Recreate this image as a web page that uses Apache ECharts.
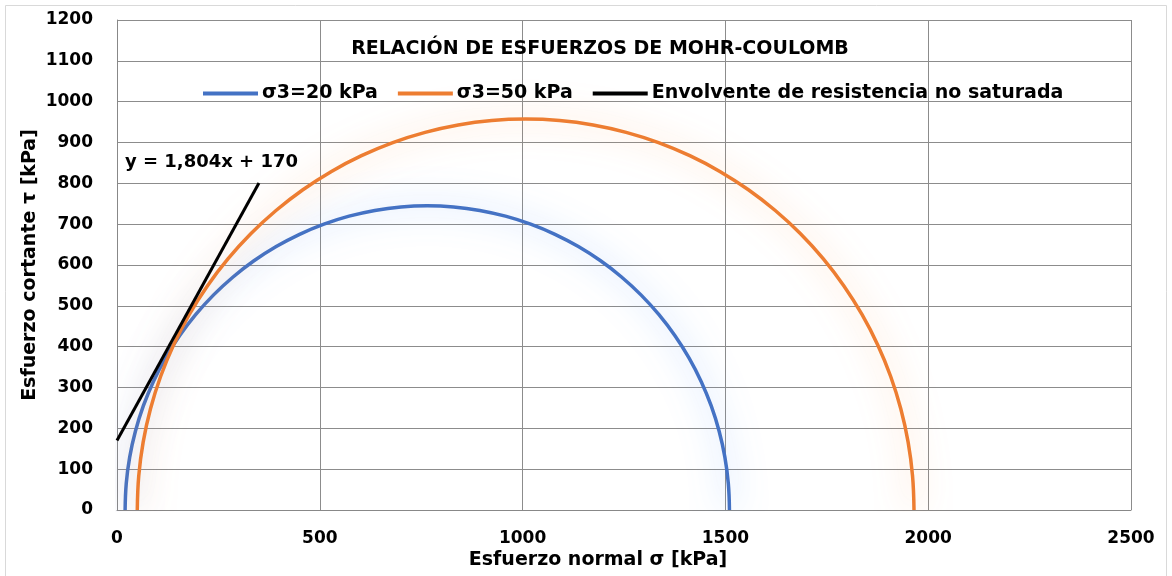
<!DOCTYPE html>
<html><head><meta charset="utf-8">
<script src="https://cdn.jsdelivr.net/npm/echarts@6/dist/echarts.min.js"></script>
<style>html,body{margin:0;padding:0;background:#fff}#c{width:1172px;height:576px}</style>
</head><body><div id="c"></div>
<script>
const titleText = 'RELACIÓN DE ESFUERZOS DE MOHR-COULOMB';
const seriesNames = ['σ3=20 kPa', 'σ3=50 kPa', 'Envolvente de resistencia no saturada'];
const trendLabel = 'y = 1,804x + 170';
const xTicks = [0, 500, 1000, 1500, 2000, 2500];
const yTicks = [0, 100, 200, 300, 400, 500, 600, 700, 800, 900, 1000, 1100, 1200];

const circle20 = [
 [20,0],[22.8,64.9],[31.3,129.4],[45.4,192.8],[64.9,254.8],[89.8,314.9],[119.8,372.5],[154.7,427.3],
 [194.3,478.9],[238.2,526.8],[286.1,570.7],[337.7,610.3],[392.5,645.2],[450.1,675.2],[510.2,700.1],
 [572.2,719.6],[635.6,733.7],[700.1,742.2],[765,745],[829.9,742.2],[894.4,733.7],[957.8,719.6],
 [1019.8,700.1],[1079.9,675.2],[1137.5,645.2],[1192.3,610.3],[1243.9,570.7],[1291.8,526.8],
 [1335.7,478.9],[1375.3,427.3],[1410.2,372.5],[1440.2,314.9],[1465.1,254.8],[1484.6,192.8],
 [1498.7,129.4],[1507.2,64.9],[1510,0]
];
const circle50 = [
 [50,0],[53.6,83.5],[64.5,166.3],[82.6,247.8],[107.7,327.5],[139.7,404.7],[178.3,478.8],[223.2,549.2],
 [274.0,615.5],[330.4,677.1],[392.0,733.5],[458.3,784.3],[528.7,829.2],[602.8,867.8],[680.0,899.8],
 [759.7,924.9],[841.2,943.0],[924.0,953.9],[1007.5,957.5],[1091.0,953.9],[1173.8,943.0],[1255.3,924.9],
 [1335.0,899.8],[1412.2,867.8],[1486.3,829.2],[1556.7,784.3],[1623.0,733.5],[1684.6,677.1],[1741.0,615.5],
 [1791.8,549.2],[1836.7,478.8],[1875.3,404.7],[1907.3,327.5],[1932.4,247.8],[1950.5,166.3],[1961.4,83.5],[1965,0]
];
const envelope = [[0,170],[350,801]];

const font = '"DejaVu Sans", "Noto Sans", sans-serif';
const chart = echarts.init(document.getElementById('c'));
chart.setOption({
  animation: false,
  backgroundColor: '#fff',
  title: { text: titleText, left: 595, top: 35, textAlign: 'center',
    textStyle: { fontFamily: font, fontWeight: 'bold', fontSize: 19, color: '#000' } },
  legend: {
    data: seriesNames, left: 198, top: 79, itemWidth: 55, itemHeight: 4, itemGap: 20,
    icon: 'rect',
    textStyle: { fontFamily: font, fontWeight: 'bold', fontSize: 19, color: '#000', padding: [0,0,0,-1] }
  },
  grid: { left: 117, right: 41, top: 20, bottom: 66 },
  xAxis: {
    type: 'value', min: 0, max: 2500, interval: 500,
    name: 'Esfuerzo normal σ [kPa]', nameLocation: 'middle', nameGap: 41, nameMoveOverlap: false,
    nameTextStyle: { fontFamily: font, fontWeight: 'bold', fontSize: 19, color: '#000', padding: [0, 52, 0, 0] },
    axisLine: { show: true, lineStyle: { color: '#888' } }, axisTick: { show: false },
    axisLabel: { fontFamily: font, fontWeight: 'bold', fontSize: 17, color: '#000', margin: 20,
      formatter: v => String(v) },
    splitLine: { show: true, lineStyle: { color: '#8c8c8c', width: 1 } }
  },
  yAxis: {
    type: 'value', min: 0, max: 1200, interval: 100,
    name: 'Esfuerzo cortante τ [kPa]', nameLocation: 'middle', nameGap: 77, nameMoveOverlap: false,
    nameTextStyle: { fontFamily: font, fontWeight: 'bold', fontSize: 19, color: '#000' },
    axisLine: { show: true, lineStyle: { color: '#888' } }, axisTick: { show: false },
    axisLabel: { fontFamily: font, fontWeight: 'bold', fontSize: 17, color: '#000', margin: 24,
      formatter: v => String(v) },
    splitLine: { show: true, lineStyle: { color: '#8c8c8c', width: 1 } }
  },
  series: [
    { name: seriesNames[0], type: 'line', data: circle20, showSymbol: false, symbol: 'none', color: '#4472c4',
      smooth: 0.4,
      lineStyle: { width: 3.5, color: '#4472c4', shadowColor: 'rgba(100,160,250,0.75)', shadowBlur: 32 } },
    { name: seriesNames[1], type: 'line', data: circle50, showSymbol: false, symbol: 'none', color: '#ed7d31',
      smooth: 0.4,
      lineStyle: { width: 3.5, color: '#ed7d31', shadowColor: 'rgba(250,155,85,0.65)', shadowBlur: 32 } },
    { name: seriesNames[2], type: 'line', data: envelope, showSymbol: false, symbol: 'none', color: '#000', z: 5,
      lineStyle: { width: 3, color: '#000' } }
  ]
});
const endPx = chart.convertToPixel({ gridIndex: 0 }, envelope[1]);
chart.setOption({
  graphic: [
    { type: 'rect', shape: { x: 5.5, y: 5.5, width: 1161, height: 575 }, silent: true,
      style: { fill: 'none', stroke: '#d9d9d9', lineWidth: 1 } },
    { type: 'text', x: endPx[0] - 134, y: endPx[1] - 30, z: 10,
      style: { text: trendLabel, fontFamily: font, fontWeight: 'bold', fontSize: 18, fill: '#000' } }
  ]
});
</script></body></html>
